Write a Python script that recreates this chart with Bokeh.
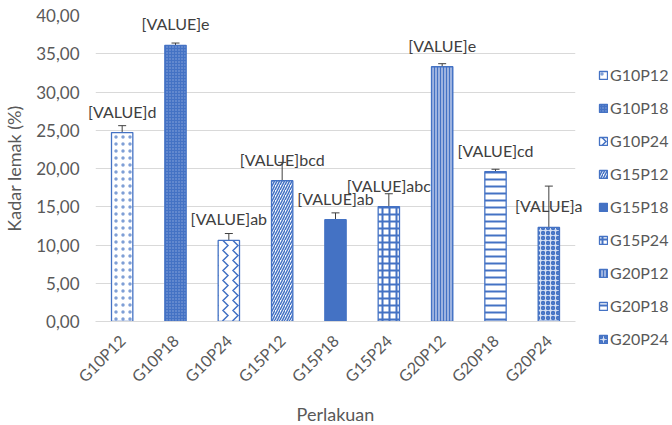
from math import pi
from bokeh.plotting import figure
from bokeh.models import (ColumnDataSource, Whisker, TeeHead, Legend, LegendItem,
                          FactorRange, Range1d, FixedTicker)
from bokeh.core.properties import value
from bokeh.embed import file_html
from bokeh.resources import INLINE

# ---- data ----
categories = ["G10P12", "G10P18", "G10P24", "G15P12", "G15P18",
              "G15P24", "G20P12", "G20P18", "G20P24"]
fat_values = [24.7, 36.1, 10.6, 18.4, 13.3, 15.0, 33.3, 19.6, 12.3]
fat_errors = [0.9, 0.3, 0.9, 2.4, 0.9, 1.7, 0.4, 0.3, 5.4]
letters = ["d", "e", "ab", "bcd", "ab", "abc", "e", "cd", "a"]
y_ticks = [0, 5, 10, 15, 20, 25, 30, 35, 40]
y_tick_labels = ["0,00", "5,00", "10,00", "15,00", "20,00", "25,00",
                 "30,00", "35,00", "40,00"]

BLUE = "#4472C4"
GRAY = "#595959"
FONT = "Lato"

styles = {
    "G10P12": dict(fill_color="white", hatch_pattern="dot", hatch_color="#7F9FD6", hatch_scale=7, hatch_weight=0.8),
    "G10P18": dict(fill_color=BLUE, hatch_pattern="dot", hatch_color="#8FAADC", hatch_scale=3, hatch_weight=0.6),
    "G10P24": dict(fill_color="white", hatch_pattern="vertical_wave", hatch_color=BLUE, hatch_scale=10, hatch_weight=1.5),
    "G15P12": dict(fill_color="white", hatch_pattern="right_diagonal_line", hatch_color=BLUE, hatch_scale=5, hatch_weight=1.5),
    "G15P18": dict(fill_color=BLUE),
    "G15P24": dict(fill_color="white", hatch_pattern="cross", hatch_color=BLUE, hatch_scale=7, hatch_weight=2),
    "G20P12": dict(fill_color="#9DB3E0", hatch_pattern="vertical_line", hatch_color=BLUE, hatch_scale=3, hatch_weight=1),
    "G20P18": dict(fill_color="white", hatch_pattern="horizontal_line", hatch_color=BLUE, hatch_scale=7, hatch_weight=2),
    "G20P24": dict(fill_color="#D6E0F3", hatch_pattern="ring", hatch_color=BLUE, hatch_scale=5, hatch_weight=1.8),
}

p = figure(frame_width=480, frame_height=306, output_backend="svg", toolbar_location=None,
           x_range=FactorRange(*categories, range_padding=0),
           y_range=Range1d(0, 40),
           min_border_left=92, min_border_right=100, min_border_top=15,
           min_border_bottom=104)
p.outline_line_color = None
p.background_fill_color = "white"
p.border_fill_color = "white"

items = []
for i, c in enumerate(categories):
    src = ColumnDataSource(dict(x=[c], top=[fat_values[i]]))
    r = p.vbar(x="x", top="top", width=0.4, source=src,
               line_color=BLUE, line_width=1.3, **styles[c])
    items.append(LegendItem(label=c, renderers=[r]))

src = ColumnDataSource(dict(
    x=categories, y=fat_values,
    upper=[v + e for v, e in zip(fat_values, fat_errors)],
    lower=[v - e for v, e in zip(fat_values, fat_errors)],
    lab=["[VALUE]" + l for l in letters]))

w = Whisker(source=src, base="x", upper="upper", lower="lower",
            line_color="#404040", line_width=1,
            upper_head=TeeHead(size=8, line_color="#404040", line_width=1),
            lower_head=TeeHead(size=8, line_color="#404040", line_width=1))
p.add_layout(w)

p.text(x="x", y="y", text="lab", source=src, text_align="center",
       text_baseline="bottom", y_offset=-12, text_font=value(FONT),
       text_font_size="16px", text_color="#404040", level="overlay")

# axes
p.yaxis.ticker = FixedTicker(ticks=y_ticks)
p.yaxis.major_label_overrides = {t: l for t, l in zip(y_ticks, y_tick_labels)}
p.yaxis.axis_line_color = None
p.yaxis.major_tick_line_color = None
p.yaxis.minor_tick_line_color = None
p.yaxis.major_label_standoff = 10
p.yaxis.axis_label = "Kadar lemak (%)"
p.yaxis.axis_label_standoff = 8
for ax in (p.xaxis, p.yaxis):
    ax.major_label_text_font = FONT
    ax.major_label_text_font_size = "17px"
    ax.major_label_text_color = GRAY
    ax.axis_label_text_font = FONT
    ax.axis_label_text_font_size = "18px"
    ax.axis_label_text_color = GRAY
    ax.axis_label_text_font_style = "normal"
p.xaxis.major_label_text_font_size = "16px"

p.xaxis.axis_line_color = "#D9D9D9"
p.xaxis.major_tick_line_color = None
p.xaxis.major_label_orientation = pi / 4
p.xaxis.major_label_standoff = 10
p.xaxis.axis_label = "Perlakuan"
p.xaxis.axis_label_standoff = 8

p.xgrid.grid_line_color = None
p.ygrid.grid_line_color = "#D9D9D9"
p.ygrid.ticker = FixedTicker(ticks=y_ticks)

legend = Legend(items=items, location=(23, -27), border_line_color=None,
                background_fill_alpha=0, label_text_font=FONT,
                label_text_font_size="16px", label_text_color=GRAY,
                glyph_width=10, glyph_height=10, label_height=12,
                label_standoff=2, spacing=14, padding=0, margin=0)
p.add_layout(legend, "right")

open("out.html", "w").write(file_html(p, INLINE))
